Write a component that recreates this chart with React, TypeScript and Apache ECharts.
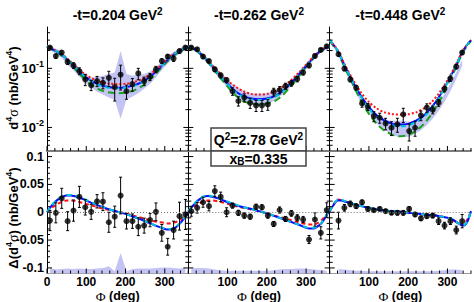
import React, { useEffect, useRef } from 'react';
import * as echarts from 'echarts';

// ---------------- data ----------------
const phiBins = [7.5, 22.5, 37.5, 52.5, 67.5, 82.5, 97.5, 112.5, 127.5, 142.5, 157.5, 172.5, 187.5, 202.5, 217.5, 232.5, 247.5, 262.5, 277.5, 292.5, 307.5, 322.5, 337.5, 352.5];
const phiTop = [0, 20, 40, 60, 80, 100, 120, 140, 160, 180, 200, 220, 240, 260, 280, 300, 320, 340, 360];
const phiBot = [0, 10, 20, 30, 40, 50, 60, 80, 100, 120, 140, 160, 180, 200, 220, 240, 260, 280, 300, 310, 320, 330, 340, 350, 360];

const tValues = ['0.204', '0.262', '0.448'];

// cross sections (top row)
const xsec1 = [0.224, 0.161, 0.185, 0.128, 0.112, 0.090, 0.065, 0.052, 0.061, 0.057, 0.069, 0.048, 0.078, 0.041, 0.054, 0.082, 0.061, 0.072, 0.096, 0.133, 0.158, 0.146, 0.196, 0.224];
const xsec1Err = [0.010, 0.012, 0.012, 0.012, 0.012, 0.012, 0.014, 0.010, 0.012, 0.012, 0.020, 0.020, 0.035, 0.011, 0.013, 0.018, 0.010, 0.010, 0.012, 0.012, 0.012, 0.015, 0.015, 0.015];
const xsec2 = [0.224, 0.210, 0.158, 0.133, 0.096, 0.076, 0.063, 0.041, 0.028, 0.032, 0.026, 0.0236, 0.0236, 0.0245, 0.040, 0.043, 0.050, 0.056, 0.066, 0.085, 0.112, 0.162, 0.205, 0.235];
const xsec2Err = [0.012, 0.012, 0.010, 0.009, 0.008, 0.007, 0.006, 0.006, 0.005, 0.005, 0.005, 0.005, 0.005, 0.005, 0.006, 0.006, 0.006, 0.006, 0.007, 0.008, 0.010, 0.012, 0.012, 0.012];
const xsec3 = [null, 0.173, 0.099, 0.065, 0.047, 0.0255, 0.0224, 0.0155, 0.0146, 0.0117, 0.0099, 0.0113, 0.0166, 0.0087, 0.0099, 0.016, 0.0216, 0.020, 0.0263, 0.045, 0.067, 0.107, 0.185, null];
const xsec3Err = [null, 0.012, 0.008, 0.006, 0.004, 0.0035, 0.003, 0.003, 0.0028, 0.0026, 0.0026, 0.003, 0.0045, 0.0028, 0.0028, 0.003, 0.0035, 0.003, 0.0035, 0.005, 0.007, 0.009, 0.012, null];

// uncertainty bands (top row)
const band1Lo = [0.205, 0.175, 0.150, 0.115, 0.092, 0.072, 0.057, 0.047, 0.040, 0.036, 0.032, 0.029, 0.014, 0.030, 0.033, 0.038, 0.045, 0.055, 0.070, 0.094, 0.120, 0.150, 0.175, 0.205];
const band1Hi = [0.245, 0.215, 0.190, 0.150, 0.122, 0.098, 0.080, 0.070, 0.072, 0.075, 0.080, 0.085, 0.196, 0.080, 0.075, 0.078, 0.080, 0.088, 0.104, 0.130, 0.160, 0.190, 0.215, 0.245];
const band2Lo = [0.215, 0.185, 0.148, 0.112, 0.084, 0.064, 0.049, 0.037, 0.031, 0.027, 0.025, 0.024, 0.024, 0.025, 0.028, 0.033, 0.040, 0.050, 0.065, 0.085, 0.113, 0.148, 0.185, 0.215];
const band2Hi = [0.245, 0.215, 0.176, 0.138, 0.107, 0.083, 0.066, 0.055, 0.047, 0.041, 0.038, 0.037, 0.037, 0.038, 0.041, 0.046, 0.053, 0.065, 0.082, 0.106, 0.138, 0.176, 0.215, 0.245];
const band3Lo = [null, 0.160, 0.100, 0.060, 0.037, 0.025, 0.018, 0.013, 0.0105, 0.009, 0.0075, 0.007, 0.0068, 0.007, 0.0078, 0.009, 0.011, 0.014, 0.019, 0.027, 0.041, 0.066, 0.110, null];
const band3Hi = [null, 0.200, 0.125, 0.076, 0.048, 0.034, 0.025, 0.019, 0.016, 0.0135, 0.013, 0.013, 0.013, 0.0125, 0.013, 0.0145, 0.017, 0.021, 0.027, 0.037, 0.055, 0.086, 0.140, null];

// model curves (top row)
const t1Blue = [0.235, 0.200, 0.165, 0.125, 0.092, 0.070, 0.058, 0.051, 0.048, 0.047, 0.048, 0.051, 0.058, 0.070, 0.092, 0.125, 0.165, 0.200, 0.235];
const t1Red = [0.240, 0.205, 0.170, 0.130, 0.098, 0.077, 0.065, 0.058, 0.055, 0.054, 0.055, 0.058, 0.065, 0.077, 0.098, 0.130, 0.170, 0.205, 0.240];
const t1Cyan = [0.238, 0.203, 0.167, 0.126, 0.093, 0.070, 0.057, 0.050, 0.047, 0.046, 0.047, 0.050, 0.057, 0.070, 0.093, 0.126, 0.167, 0.203, 0.238];
const t1Green = [0.230, 0.195, 0.158, 0.118, 0.085, 0.062, 0.049, 0.042, 0.039, 0.038, 0.039, 0.042, 0.049, 0.062, 0.085, 0.118, 0.158, 0.195, 0.230];
const t2Blue = [0.235, 0.205, 0.155, 0.110, 0.077, 0.055, 0.041, 0.034, 0.031, 0.030, 0.031, 0.034, 0.041, 0.055, 0.077, 0.110, 0.155, 0.205, 0.235];
const t2Red = [0.240, 0.210, 0.160, 0.115, 0.083, 0.062, 0.049, 0.041, 0.037, 0.036, 0.037, 0.041, 0.049, 0.062, 0.083, 0.115, 0.160, 0.210, 0.240];
const t2Cyan = [0.238, 0.207, 0.156, 0.110, 0.076, 0.054, 0.040, 0.033, 0.030, 0.029, 0.030, 0.033, 0.040, 0.054, 0.076, 0.110, 0.156, 0.207, 0.238];
const t2Green = [0.230, 0.200, 0.150, 0.105, 0.071, 0.049, 0.035, 0.028, 0.0255, 0.0245, 0.0255, 0.028, 0.035, 0.049, 0.071, 0.105, 0.150, 0.200, 0.230];
const t3Blue = [0.300, 0.200, 0.105, 0.058, 0.034, 0.022, 0.016, 0.013, 0.0115, 0.0112, 0.0115, 0.013, 0.016, 0.022, 0.034, 0.058, 0.105, 0.200, 0.300];
const t3Red = [0.300, 0.205, 0.110, 0.063, 0.039, 0.027, 0.021, 0.018, 0.0168, 0.0165, 0.0168, 0.018, 0.021, 0.027, 0.039, 0.063, 0.110, 0.205, 0.300];
const t3Cyan = [0.300, 0.200, 0.104, 0.057, 0.033, 0.021, 0.0152, 0.0123, 0.0108, 0.0105, 0.0108, 0.0123, 0.0152, 0.021, 0.033, 0.057, 0.104, 0.200, 0.300];
const t3Green = [0.290, 0.190, 0.097, 0.052, 0.028, 0.017, 0.0115, 0.0088, 0.0075, 0.0071, 0.0075, 0.0088, 0.0115, 0.017, 0.028, 0.052, 0.097, 0.190, 0.290];

// differences (bottom row)
const diff1 = [-0.015, -0.001, 0.025, -0.016, 0.003, 0.0276, 0.009, 0.0007, 0.0197, 0.019, -0.018, -0.008, 0.030, -0.016, -0.016, -0.026, -0.024, -0.014, 0.0007, -0.037, -0.062, -0.032, -0.007, -0.004];
const diff1Err = [0.018, 0.018, 0.018, 0.017, 0.019, 0.019, 0.014, 0.0135, 0.012, 0.016, 0.018, 0.019, 0.033, 0.014, 0.013, 0.016, 0.0135, 0.012, 0.016, 0.015, 0.015, 0.016, 0.025, 0.027];
const diff2 = [0.0018, 0.008, 0.018, 0.011, 0.038, 0.0276, 0.0, 0.012, -0.001, -0.006, -0.008, 0.0097, 0.009, -0.006, -0.021, 0.004, -0.012, -0.002, -0.010, -0.013, -0.049, -0.013, -0.037, 0.004];
const diff2Err = [0.009, 0.0095, 0.009, 0.0085, 0.0095, 0.0085, 0.008, 0.0045, 0.0045, 0.0048, 0.0045, 0.0048, 0.0045, 0.0045, 0.0045, 0.0055, 0.0045, 0.005, 0.0055, 0.0055, 0.0072, 0.012, 0.011, 0.013];
const diff3 = [null, -0.015, 0.008, 0.015, 0.011, 0.018, 0.006, 0.0036, 0.006, 0.002, -0.001, -0.001, -0.001, 0.006, -0.004, -0.011, -0.007, -0.006, -0.016, -0.024, -0.016, -0.032, -0.016, null];
const diff3Err = [null, 0.015, 0.006, 0.005, 0.004, 0.004, 0.004, 0.003, 0.003, 0.003, 0.003, 0.004, 0.004, 0.004, 0.004, 0.004, 0.004, 0.004, 0.006, 0.006, 0.006, 0.007, 0.012, null];

// systematic bands (bottom row, top edge)
const sys1 = [-0.100, -0.103, -0.102, -0.101, -0.102, -0.101, -0.102, -0.102, -0.101, -0.100, -0.097, -0.106, -0.073, -0.106, -0.102, -0.101, -0.101, -0.101, -0.100, -0.099, -0.099, -0.100, -0.101, -0.100];
const sys2 = [-0.101, -0.100, -0.100, -0.101, -0.103, -0.104, -0.105, -0.105, -0.105, -0.105, -0.105, -0.105, -0.105, -0.105, -0.104, -0.103, -0.102, -0.102, -0.101, -0.101, -0.102, -0.103, -0.104, -0.105];
const sys3 = [null, -0.102, -0.103, -0.104, -0.105, -0.105, -0.106, -0.106, -0.106, -0.106, -0.106, -0.106, -0.106, -0.106, -0.106, -0.106, -0.106, -0.106, -0.105, -0.104, -0.103, -0.103, -0.104, null];

// model curves (bottom row)
const b1Blue = [0.000, 0.010, 0.018, 0.024, 0.028, 0.030, 0.030, 0.027, 0.021, 0.015, 0.010, 0.005, 0.001, -0.003, -0.008, -0.013, -0.019, -0.025, -0.030, -0.031, -0.030, -0.026, -0.019, -0.010, 0.000];
const b1Cyan = [0.000, 0.011, 0.019, 0.025, 0.029, 0.031, 0.031, 0.028, 0.022, 0.016, 0.010, 0.005, 0.001, -0.003, -0.008, -0.013, -0.019, -0.025, -0.029, -0.030, -0.029, -0.025, -0.018, -0.009, 0.000];
const b1Red = [0.000, 0.007, 0.012, 0.016, 0.019, 0.021, 0.021, 0.019, 0.015, 0.011, 0.007, 0.004, 0.001, -0.002, -0.006, -0.010, -0.014, -0.017, -0.019, -0.020, -0.019, -0.017, -0.013, -0.007, 0.000];
const b2Blue = [0.002, 0.010, 0.018, 0.024, 0.028, 0.029, 0.028, 0.024, 0.018, 0.013, 0.009, 0.006, 0.002, -0.002, -0.007, -0.012, -0.017, -0.022, -0.028, -0.029, -0.029, -0.025, -0.019, -0.008, 0.003];
const b2Cyan = [0.002, 0.011, 0.019, 0.025, 0.029, 0.030, 0.029, 0.025, 0.019, 0.014, 0.009, 0.006, 0.002, -0.002, -0.007, -0.012, -0.017, -0.022, -0.027, -0.028, -0.028, -0.024, -0.018, -0.007, 0.003];
const b2Red = [0.002, 0.008, 0.013, 0.017, 0.020, 0.021, 0.021, 0.019, 0.015, 0.011, 0.008, 0.005, 0.002, -0.002, -0.006, -0.010, -0.014, -0.018, -0.021, -0.022, -0.022, -0.019, -0.014, -0.006, 0.003];
const b3Blue = [0.002, 0.013, 0.021, 0.021, 0.019, 0.017, 0.015, 0.011, 0.008, 0.005, 0.003, 0.002, 0.001, -0.001, -0.002, -0.004, -0.005, -0.007, -0.010, -0.012, -0.016, -0.021, -0.024, -0.018, 0.002];
const b3Cyan = [0.002, 0.014, 0.022, 0.022, 0.020, 0.017, 0.015, 0.011, 0.008, 0.005, 0.003, 0.002, 0.001, -0.001, -0.002, -0.004, -0.005, -0.007, -0.010, -0.012, -0.016, -0.021, -0.024, -0.017, 0.002];
const b3Red = [0.002, 0.014, 0.023, 0.022, 0.019, 0.017, 0.015, 0.011, 0.008, 0.005, 0.003, 0.002, 0.001, -0.001, -0.002, -0.004, -0.005, -0.007, -0.010, -0.013, -0.017, -0.021, -0.022, -0.014, 0.002];

// ticks & labels
const xTickVals = [0, 20, 40, 60, 80, 100, 120, 140, 160, 180, 200, 220, 240, 260, 280, 300, 320, 340, 360];
const xMajorVals = [0, 100, 200, 300];
const xLabels = ['0', '100', '200', '300'];
const logTickVals = [0.005, 0.006, 0.007, 0.008, 0.009, 0.01, 0.02, 0.03, 0.04, 0.05, 0.06, 0.07, 0.08, 0.09, 0.1, 0.2, 0.3, 0.4];
const logMajorVals = [0.01, 0.1];
const logLabels = ['{b|10}{s|-2}', '{b|10}{s|-1}'];
const linTickVals = [-0.1, -0.09, -0.08, -0.07, -0.06, -0.05, -0.04, -0.03, -0.02, -0.01, 0, 0.01, 0.02, 0.03, 0.04, 0.05, 0.06, 0.07, 0.08, 0.09, 0.1];
const linMajorVals = [-0.1, -0.05, 0, 0.05, 0.1];
const linLabels = ['-0.1', '-0.05', '0', '0.05', '0.1'];

// ---------------- style / layout ----------------
const FONT = '"Liberation Sans", Arial, Helvetica, sans-serif';
const SERIF = '"Liberation Serif", "DejaVu Serif", serif';
const BLUE = '#0a0aff';
const RED = '#ff1010';
const CYAN = '#00c4d8';
const GREEN = '#18a018';
const BAND = '#c4c4f4';
const LEFT = 47;
const PANEL_W = 141.33;
const TOP = 27;
const TOP_H = 124;
const BOT_H = 122.5;
const LOG_MIN = 0.004;
const LOG_MAX = 0.5;
const LIN_MIN = -0.11;
const LIN_MAX = 0.11;

function rich(size: number, lh?: number) {
  const s = Math.round(size * 0.68);
  const L = lh == null ? size + 4 : lh;
  return {
    n: { fontSize: size, fontWeight: 'bold', fontFamily: FONT, lineHeight: L, fill: '#000', color: '#000' },
    sup: { fontSize: s, fontWeight: 'bold', fontFamily: FONT, lineHeight: s, verticalAlign: 'top', fill: '#000', color: '#000' },
    sub: { fontSize: s, fontWeight: 'bold', fontFamily: FONT, lineHeight: s, verticalAlign: 'bottom', fill: '#000', color: '#000' },
    g: { fontSize: size + 1, fontFamily: SERIF, lineHeight: L, fill: '#000', color: '#000' },
  };
}

const topPts = [xsec1, xsec2, xsec3];
const topErr = [xsec1Err, xsec2Err, xsec3Err];
const topLo = [band1Lo, band2Lo, band3Lo];
const topHi = [band1Hi, band2Hi, band3Hi];
const topCurves = [
  { green: t1Green, blue: t1Blue, red: t1Red, cyan: t1Cyan },
  { green: t2Green, blue: t2Blue, red: t2Red, cyan: t2Cyan },
  { green: t3Green, blue: t3Blue, red: t3Red, cyan: t3Cyan },
];
const botPts = [diff1, diff2, diff3];
const botErr = [diff1Err, diff2Err, diff3Err];
const botSys = [sys1, sys2, sys3];
const botCurves = [
  { blue: b1Blue, red: b1Red, cyan: b1Cyan },
  { blue: b2Blue, red: b2Red, cyan: b2Cyan },
  { blue: b3Blue, red: b3Red, cyan: b3Cyan },
];

function near(a: number, b: number) {
  return Math.abs(a - b) <= 1e-6 * Math.max(1e-3, Math.abs(b));
}

function buildOption() {
  const grids: any[] = [];
  const xAxes: any[] = [];
  const yAxes: any[] = [];
  const series: any[] = [];
  const graphic: any[] = [];

  for (let row = 0; row < 2; row++) {
    for (let col = 0; col < 3; col++) {
      const g = row * 3 + col;
      const isTop = row === 0;
      grids.push({
        left: LEFT + col * PANEL_W,
        top: isTop ? TOP : TOP + TOP_H,
        width: PANEL_W,
        height: isTop ? TOP_H : BOT_H,
        containLabel: false,
        outerBoundsMode: 'none',
      });
      xAxes.push({
        type: 'value', gridIndex: g, min: 0, max: 360, interval: 100,
        axisLine: { show: true, onZero: false, lineStyle: isTop ? { color: '#7c7c7c', width: 2 } : { color: '#9a9a9a', width: 1 } },
        axisTick: { show: false }, splitLine: { show: false },
        axisLabel: isTop ? { show: false } : {
          show: true, margin: 2, fontSize: 12, lineHeight: 13, fontWeight: 'bold', fontFamily: FONT, color: '#000',
          showMinLabel: col === 0, showMaxLabel: false,
          formatter: (v: number) => {
            const i = xMajorVals.findIndex((m) => near(v, m));
            if (i < 0 || (col > 0 && i === 0)) return '';
            return xLabels[i];
          },
        },
      });
      if (isTop) {
        yAxes.push({
          type: 'log', logBase: 10, gridIndex: g, min: LOG_MIN, max: LOG_MAX,
          axisLine: { show: true, onZero: false, lineStyle: { color: '#000', width: 1 } },
          axisTick: { show: false }, splitLine: { show: false }, minorTick: { show: false },
          axisLabel: col > 0 ? { show: false } : {
            show: true, margin: 3, showMinLabel: false, showMaxLabel: false,
            formatter: (v: number) => {
              const i = logMajorVals.findIndex((m) => near(v, m));
              return i < 0 ? '' : logLabels[i];
            },
            rich: {
              b: { fontSize: 13, fontWeight: 'bold', fontFamily: FONT, color: '#000', lineHeight: 17, verticalAlign: 'middle' },
              s: { fontSize: 9, fontWeight: 'bold', fontFamily: FONT, color: '#000', lineHeight: 9, verticalAlign: 'top' },
            },
          },
        });
      } else {
        yAxes.push({
          type: 'value', gridIndex: g, min: LIN_MIN, max: LIN_MAX, interval: 0.01,
          axisLine: { show: true, onZero: false, lineStyle: { color: '#000', width: 1 } },
          axisTick: { show: false }, splitLine: { show: false },
          axisLabel: col > 0 ? { show: false } : {
            show: true, margin: 3, fontSize: 12.5, lineHeight: 12, fontWeight: 'bold', fontFamily: FONT, color: '#000',
            formatter: (v: number) => {
              const i = linMajorVals.findIndex((m) => Math.abs(m - v) < 1e-6);
              return i < 0 ? '' : linLabels[i];
            },
          },
        });
      }

      const yMin = isTop ? LOG_MIN : LIN_MIN;
      const pts = isTop ? topPts[col] : botPts[col];
      const errs = isTop ? topErr[col] : botErr[col];

      if (isTop) {
        const lo = topLo[col];
        const hi = topHi[col];
        const k = lo.findIndex((v) => v != null);
        series.push({
          type: 'custom', xAxisIndex: g, yAxisIndex: g, z: 1, silent: true,
          data: [[phiBins[k], lo[k]]],
          renderItem: (_p: any, api: any) => {
            const up: number[][] = [];
            const dn: number[][] = [];
            phiBins.forEach((p, i) => {
              if (hi[i] != null && lo[i] != null) {
                up.push(api.coord([p, hi[i]]));
                dn.push(api.coord([p, lo[i]]));
              }
            });
            return { type: 'polygon', shape: { points: up.concat(dn.reverse()) }, style: { fill: BAND } };
          },
        });
        const c = topCurves[col];
        const defs = [
          { d: c.green, color: GREEN, type: [7, 4] },
          { d: c.blue, color: BLUE, type: 'solid' },
          { d: c.red, color: RED, type: [2, 2] },
          { d: c.cyan, color: CYAN, type: [5, 4] },
        ];
        defs.forEach((df) => {
          series.push({
            type: 'line', xAxisIndex: g, yAxisIndex: g, z: 2, silent: true,
            data: phiTop.map((p, i) => [p, df.d[i]]),
            smooth: 0.3, showSymbol: false, symbol: 'none',
            lineStyle: { color: df.color, width: 2, type: df.type },
          });
        });
      } else {
        const sys = botSys[col];
        series.push({
          type: 'line', xAxisIndex: g, yAxisIndex: g, z: 1, silent: true,
          data: phiBins.map((p, i) => [p, sys[i]]).filter((d) => d[1] != null),
          showSymbol: false, symbol: 'none',
          lineStyle: { width: 0, opacity: 0 },
          areaStyle: { color: BAND, opacity: 1, origin: 'start' },
          markLine: {
            silent: true, symbol: ['none', 'none'], label: { show: false },
            lineStyle: { color: '#707070', type: [1, 2], width: 1 },
            data: [{ yAxis: 0 }],
          },
        });
        const c = botCurves[col];
        const defs = [
          { d: c.red, color: RED, type: [4, 3] },
          { d: c.blue, color: BLUE, type: 'solid' },
          { d: c.cyan, color: CYAN, type: [5, 4] },
        ];
        defs.forEach((df) => {
          series.push({
            type: 'line', xAxisIndex: g, yAxisIndex: g, z: 2, silent: true,
            data: phiBot.map((p, i) => [p, df.d[i]]),
            smooth: 0.3, showSymbol: false, symbol: 'none',
            lineStyle: { color: df.color, width: 2, type: df.type },
          });
        });
      }

      // error bars
      const ptData = phiBins
        .map((p, i) => [p, pts[i], errs[i]])
        .filter((d) => d[1] != null && d[2] != null);
      series.push({
        type: 'custom', xAxisIndex: g, yAxisIndex: g, z: 3, silent: true,
        data: ptData, encode: { x: 0, y: 1 },
        renderItem: (_p: any, api: any) => {
          const x = api.value(0);
          const y = api.value(1);
          const e = api.value(2);
          const lo = Math.max(y - e, yMin);
          const a = api.coord([x, lo]);
          const b = api.coord([x, y + e]);
          const st = { stroke: '#000', lineWidth: 1 };
          return {
            type: 'group',
            children: [
              { type: 'line', shape: { x1: a[0], y1: a[1], x2: b[0], y2: b[1] }, style: st },
              { type: 'line', shape: { x1: a[0] - 1.5, y1: a[1], x2: a[0] + 1.5, y2: a[1] }, style: st },
              { type: 'line', shape: { x1: b[0] - 1.5, y1: b[1], x2: b[0] + 1.5, y2: b[1] }, style: st },
            ],
          };
        },
      });
      series.push({
        type: 'scatter', xAxisIndex: g, yAxisIndex: g, z: 4, silent: true,
        data: ptData.map((d) => [d[0], d[1]]),
        symbol: 'circle', symbolSize: 6, itemStyle: { color: '#000' },
      });

      // ticks
      const tickData: number[][] = [];
      xTickVals.forEach((v) => tickData.push([v, yMin, xMajorVals.includes(v) ? 1 : 0]));
      const yt = isTop ? logTickVals : linTickVals;
      const ym = isTop ? logMajorVals : linMajorVals;
      yt.forEach((v) => {
        const maj = ym.some((m) => Math.abs(m - v) < 1e-9);
        tickData.push([0, v, maj ? 3 : 2]);
        if (col < 2) tickData.push([360, v, maj ? 5 : 4]);
      });
      series.push({
        type: 'custom', xAxisIndex: g, yAxisIndex: g, z: 5, silent: true,
        data: tickData, encode: { x: 0, y: 1 },
        renderItem: (_p: any, api: any) => {
          const p = api.coord([api.value(0), api.value(1)]);
          const k = api.value(2);
          let x2 = p[0];
          let y2 = p[1];
          if (k === 0) y2 -= 3;
          else if (k === 1) y2 -= 5;
          else if (k === 2) x2 += 3;
          else if (k === 3) x2 += 5;
          else if (k === 4) x2 -= 3;
          else x2 -= 5;
          return { type: 'line', shape: { x1: p[0], y1: p[1], x2, y2 }, style: { stroke: '#000', lineWidth: 1 } };
        },
      });
    }
  }

  // texts
  tValues.forEach((t, c) => {
    graphic.push({
      type: 'text', x: LEFT + (c + 0.5) * PANEL_W, y: 15, z: 10,
      style: { text: `{n|-t=${t} GeV}{sup|2}`, rich: rich(14), align: 'center', verticalAlign: 'middle' },
    });
    graphic.push({
      type: 'text', x: LEFT + (c + 0.5) * PANEL_W, y: 296, z: 10,
      style: { text: '{g|Φ}{n| (deg)}', rich: rich(12.5, 12), align: 'center', verticalAlign: 'middle' },
    });
  });
  graphic.push({
    type: 'text', x: 13, y: 88, rotation: Math.PI / 2, z: 10,
    style: { text: '{n|d}{sup|4}{g|σ}{n| (nb/GeV}{sup|4}{n|)}', rich: rich(13), align: 'center', verticalAlign: 'middle' },
  });
  graphic.push({
    type: 'text', x: 13, y: 218, rotation: Math.PI / 2, z: 10,
    style: { text: '{n|Δ(d}{sup|4}{g|σ}{n|) (nb/GeV}{sup|4}{n|)}', rich: rich(13), align: 'center', verticalAlign: 'middle' },
  });
  // kinematics box
  graphic.push({ type: 'rect', z: 20, shape: { x: 211, y: 128, width: 95, height: 23 }, style: { fill: '#fff', stroke: '#444', lineWidth: 1.5 } });
  graphic.push({ type: 'rect', z: 20, shape: { x: 211, y: 151, width: 95, height: 15 }, style: { fill: '#fff', stroke: '#444', lineWidth: 1.5 } });
  graphic.push({
    type: 'text', x: 258.5, y: 140, z: 21,
    style: { text: '{n|Q}{sup|2}{n|=2.78 GeV}{sup|2}', rich: rich(14), align: 'center', verticalAlign: 'middle' },
  });
  graphic.push({
    type: 'text', x: 258.5, y: 158.5, z: 21,
    style: { text: '{n|x}{sub|B}{n|=0.335}', rich: rich(14, 16), align: 'center', verticalAlign: 'middle' },
  });

  return {
    animation: false,
    backgroundColor: '#fff',
    grid: grids,
    xAxis: xAxes,
    yAxis: yAxes,
    series,
    graphic: { elements: graphic },
  };
}

export default function App() {
  const ref = useRef<HTMLDivElement>(null);
  useEffect(() => {
    const chart = echarts.init(ref.current as HTMLDivElement, null, { renderer: 'svg' });
    chart.setOption(buildOption() as any);
    return () => chart.dispose();
  }, []);
  return (
    <div
      ref={ref}
      style={{ position: 'absolute', left: 0, top: 0, width: 474, height: 302, background: '#fff' }}
    />
  );
}
